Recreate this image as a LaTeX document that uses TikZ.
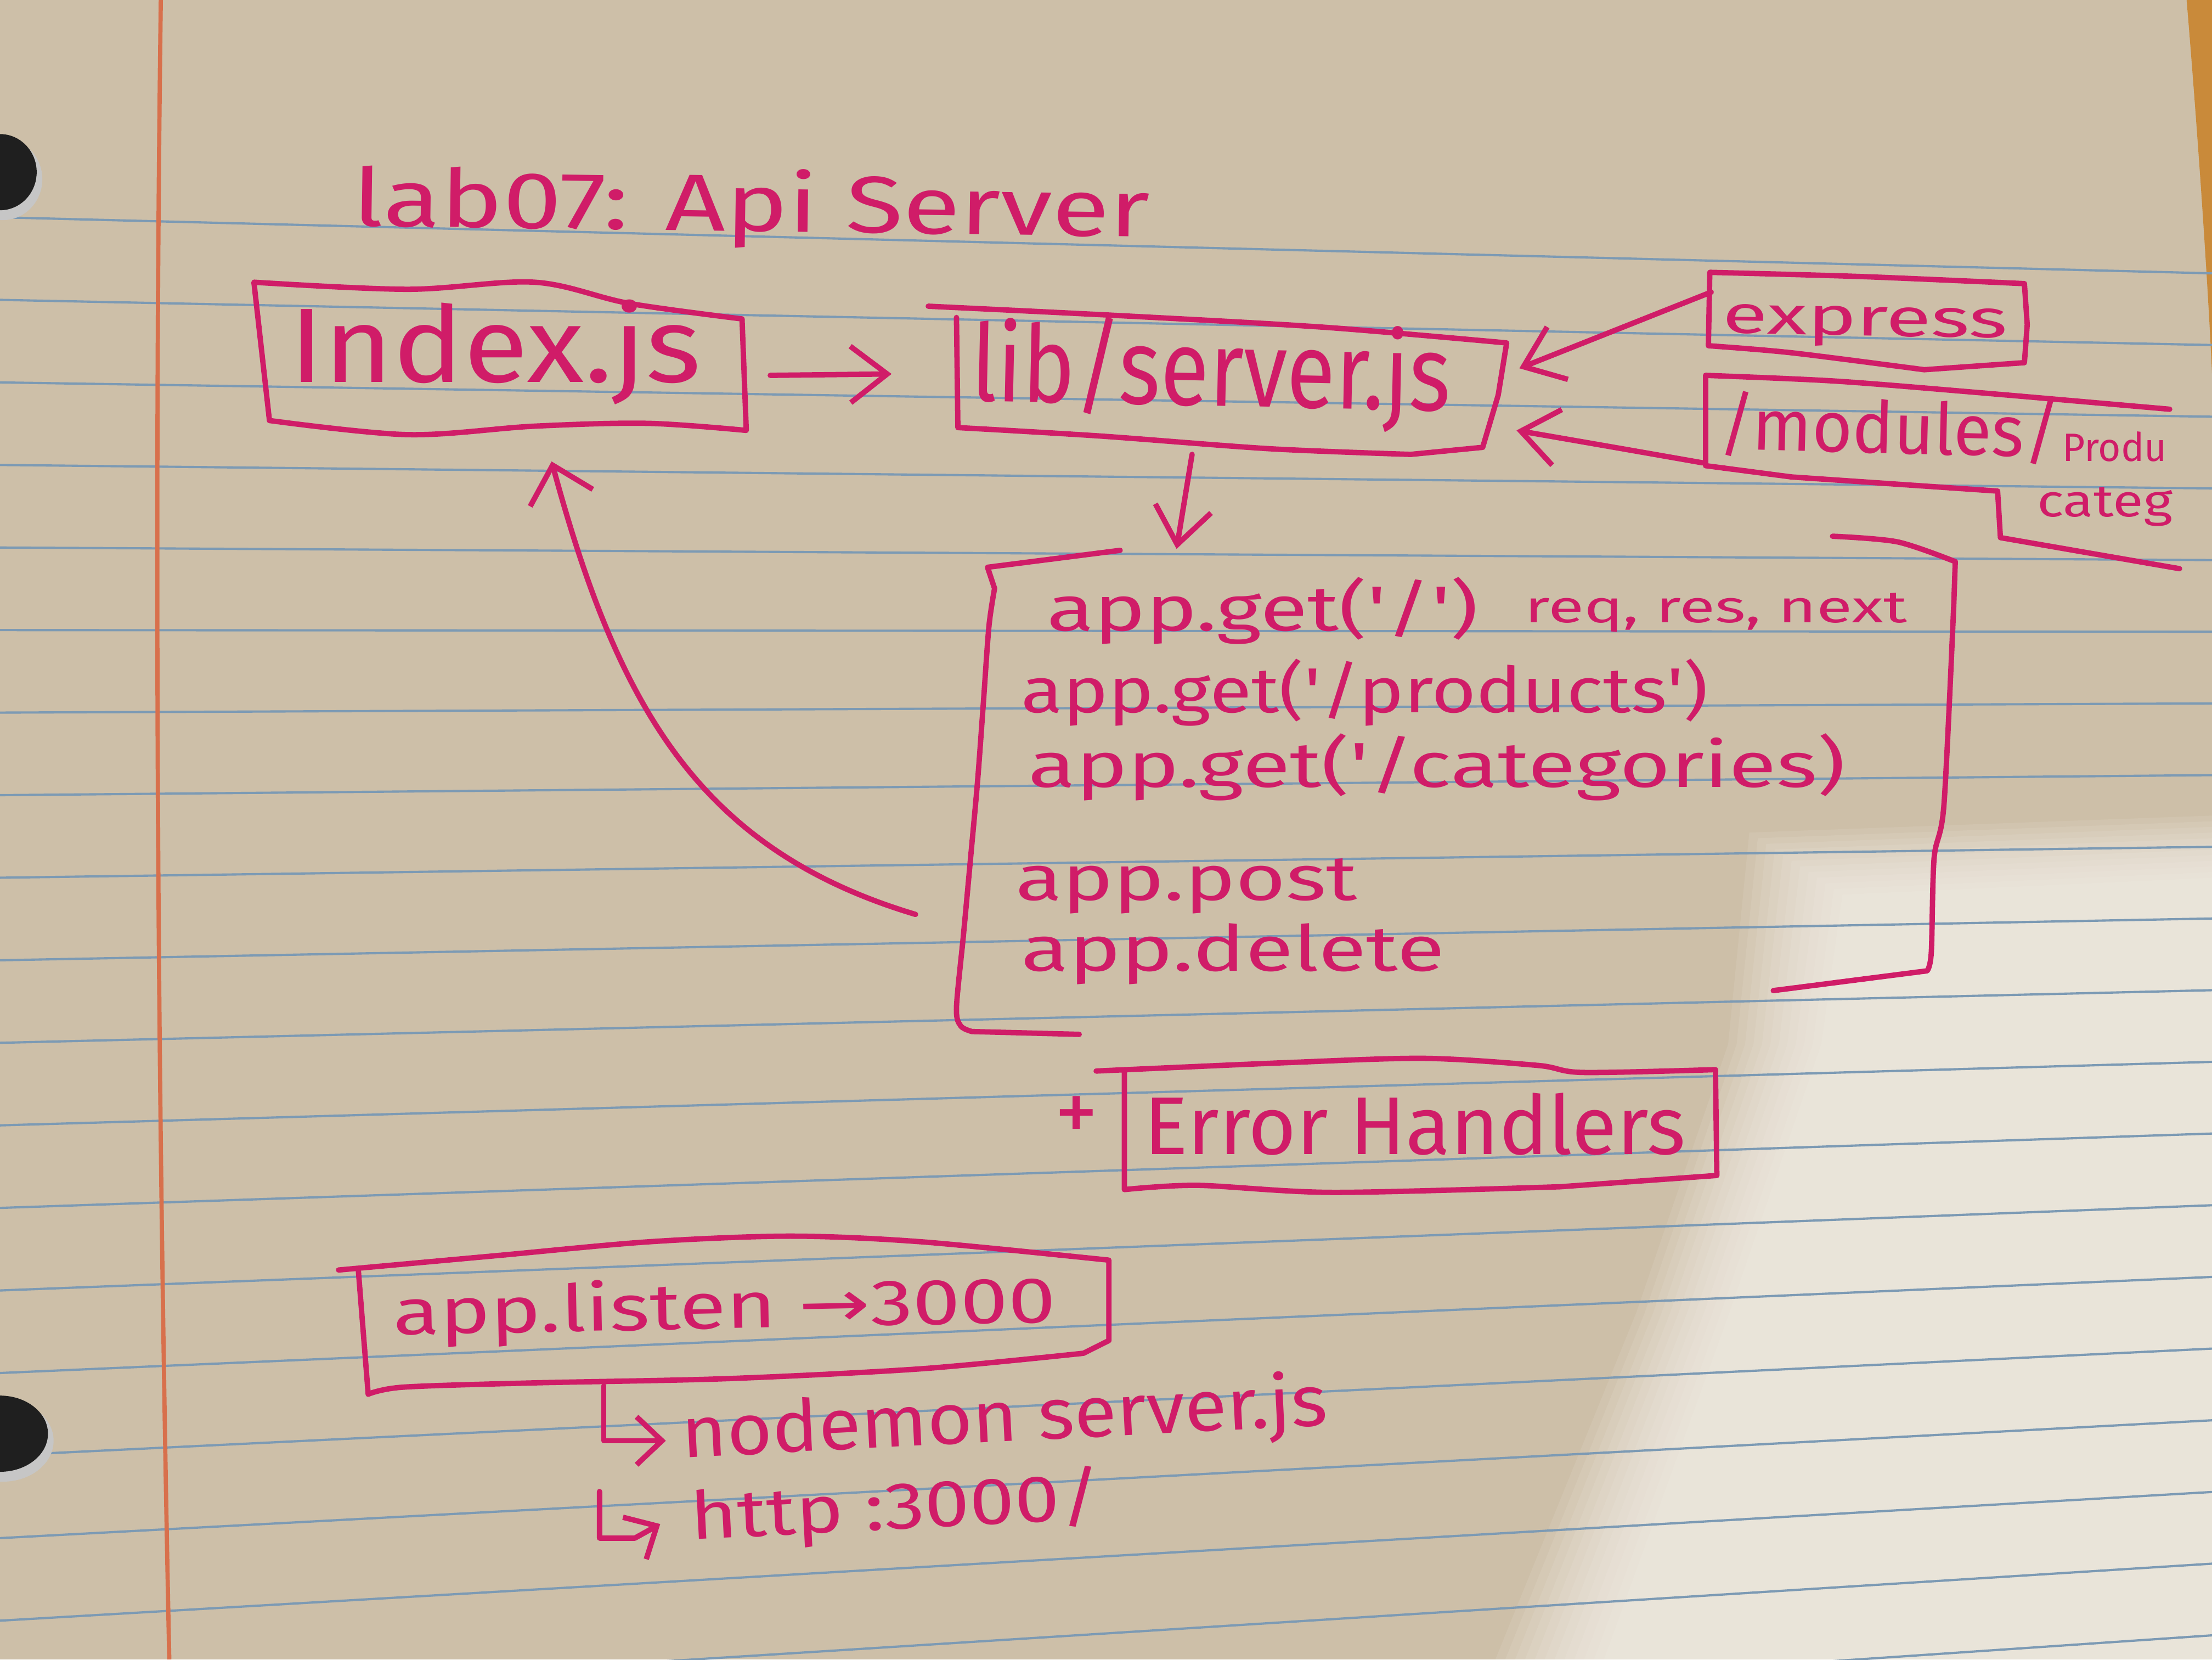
\documentclass[tikz,border=0pt]{standalone}
\usepackage{graphicx}
\usepackage{fontspec}
\setmainfont{Fira Sans}
\newfontfamily\symfont{DejaVu Sans}
\usetikzlibrary{arrows.meta}

\definecolor{ink}{HTML}{D01C68}
\definecolor{paper}{HTML}{CDBFA8}
\definecolor{paperlit}{HTML}{F8F5EE}
\definecolor{rule}{HTML}{7C9AB4}
\definecolor{margin}{HTML}{D8704C}
\definecolor{wood}{HTML}{C98A3A}

% hand lettering: text at a given size, stretched to a given width
\newcommand{\penText}[3]{\resizebox{#1pt}{\height}{\fontsize{#2}{#2}\selectfont #3}}
\newcommand{\q}{\textquotesingle}

\begin{document}
\begin{tikzpicture}[x=1pt,y=-1pt,
  pen/.style={draw=ink, line width=3.8pt, line cap=round, line join=round},
  txt/.style={text=ink, anchor=base west, inner sep=0pt, outer sep=0pt},
  barb/.style={-{Straight Barb[length=26pt,width=40pt]}},
  hookbarb/.style={-{Straight Barb[length=18pt,width=34pt]}},
  ruling/.style={draw=rule, line width=1.6pt}]

\useasboundingbox (0,0) rectangle (1568,1176);

% ---------- sheet of ruled paper ----------
\fill[paper] (0,0) rectangle (1568,1176);
% soft patch of light on the lower right
\foreach \k in {0,...,11}
  \fill[paperlit, opacity=0.11]
    ({1240+6*\k},{590+4*\k}) -- (1568,{578+4*\k}) -- (1568,1176)
    -- ({1060+7*\k},1176) -- ({1160+6*\k},930) -- ({1225+6*\k},740) -- cycle;
\fill[wood] (1550,0) .. controls (1560,120) and (1566,220) .. (1568,265) -- (1568,0) -- cycle;

\foreach \i in {0,...,19}
  \draw[ruling] (0,{154+58.5*\i}) -- (1568,{193.7+50.8*\i});
\draw[draw=margin, line width=3pt] (114,0) .. controls (110,300) and (110,700) .. (120,1176);

% binder holes
\fill[gray!45] (2,127) ellipse [x radius=28, y radius=29];
\fill[black!88] (0,122) ellipse [x radius=26, y radius=27];
\fill[gray!45] (2,1021) ellipse [x radius=36, y radius=29];
\fill[black!88] (0,1016) ellipse [x radius=34, y radius=27];

% ---------- title ----------
\node[txt, rotate=-0.8] (title) at (250,160) {\penText{565}{57}{lab07: Api Server}};

% ---------- Index.js ----------
\node[txt] (index) at (205,271) {\penText{292}{75}{Index.js}};
\draw[pen] plot[smooth,tension=.55] coordinates {(180,200) (289,205) (379,200) (446,215) (526,226)}
  -- plot[smooth,tension=.55] coordinates {(529,305) (459,300) (379,302) (289,308) (191,298)} -- cycle;

% ---------- lib/server.js ----------
\node[txt, rotate=-1.2] (lib) at (688,284) {\penText{340}{76}{lib/server.js}};
\draw[pen] plot[smooth,tension=.5] coordinates {(658,217) (800,224) (940,232) (1068,243)}
  -- plot[smooth,tension=.5] coordinates {(1062,280) (1051,317)}
  -- plot[smooth,tension=.5] coordinates {(1000,322) (900,318) (780,309) (679,303)}
  -- (678,225);

% ---------- express ----------
\node[txt, rotate=-1] (express) at (1221,236) {\penText{202}{38}{express}};
\draw[pen] plot[smooth,tension=.5] coordinates {(1212,193) (1320,196) (1435,201)}
  -- plot[smooth,tension=.5] coordinates {(1437,230) (1435,257)}
  -- plot[smooth,tension=.5] coordinates {(1364,262) (1270,250) (1211,245)} -- cycle;

% ---------- /modules/products categories ----------
\node[txt, rotate=-1.5] (modules) at (1218,318) {\penText{242}{51}{/modules/}};
\node[txt] (produ) at (1462,327) {\penText{74}{28}{Produ}};
\node[txt] (categ) at (1444,366) {\penText{96}{32}{categ}};
\draw[pen] plot[smooth,tension=.5] coordinates {(1538,290) (1400,278) (1300,270) (1209,266)}
  -- (1209,330)
  -- plot[smooth,tension=.5] coordinates {(1270,338) (1416,348)}
  -- (1418,381) -- (1545,403);

% ---------- route handlers ----------
\node[txt] (get1) at (742,447) {\penText{306}{45}{app.get(\q/\q)}};
\node[txt] (args) at (1081,441) {\penText{271}{32}{req, res, next}};
\node[txt] (get2) at (724,505) {\penText{487}{45}{app.get(\q/products\q)}};
\node[txt] (get3) at (729,558) {\penText{579}{45}{app.get(\q/categories)}};
\node[txt] (post) at (720,638) {\penText{242}{45}{app.post}};
\node[txt] (del)  at (724,688) {\penText{300}{45}{app.delete}};
\draw[pen] (794,390) -- (700,402)
  -- plot[smooth,tension=.5] coordinates {(705,417) (701,444) (697,499) (693,553) (688,608) (683,662) (678,714) (681,727) (689,731)}
  -- (765,733);
\draw[pen] plot[smooth,tension=.5] coordinates {(1299,380) (1345,384) (1386,398)}
  -- plot[smooth,tension=.5] coordinates {(1385,427) (1378,570) (1371,608) (1369,675) (1366,688)}
  -- (1257,702);

% ---------- error handlers ----------
\node[text=ink, inner sep=0pt] (plus) at (763,793) {\fontsize{62}{62}\selectfont +};
\node[txt] (err) at (811,818) {\penText{384}{58}{Error Handlers}};
\draw[pen] plot[smooth,tension=.5] coordinates {(777,759) (913,753) (1010,750) (1090,755) (1122,760) (1216,758)}
  -- (1217,833)
  -- plot[smooth,tension=.5] coordinates {(1106,841) (945,845) (849,840) (797,843)}
  -- (797,758);

% ---------- app.listen ----------
\node[txt, rotate=1.1] (listen) at (279,946) {\penText{470}{46}{app.listen {\symfont →}3000}};
\draw[pen] plot[smooth,tension=.5] coordinates {(240,900) (350,890) (460,880) (560,876) (653,880) (786,893)}
  -- (786,950)
  -- plot[smooth,tension=.5] coordinates {(768,959) (653,970) (515,977) (378,980) (286,983) (261,988)}
  -- (254,900);
\node[txt, rotate=2.9] (nodemon) at (484,1033) {\penText{458}{51}{nodemon server.js}};
\node[txt, rotate=2.9] (http) at (490,1091) {\penText{292}{47}{http :3000/}};

% ---------- connectors ----------
\coordinate (idxOut) at (546,266);
\coordinate (libIn) at (632,265);
\draw[pen, barb] (idxOut) -- (libIn);

\coordinate (expOut) at (1213,207);
\coordinate (libInA) at (1077,261);
\draw[pen, barb] (expOut) -- (libInA);

\coordinate (modOut) at (1207,328);
\coordinate (libInB) at (1075,305);
\draw[pen, barb] (modOut) .. controls (1150,318) .. (libInB);

\coordinate (libOut) at (845,322);
\coordinate (blockIn) at (834,389);
\draw[pen, barb] (libOut) -- (blockIn);

\coordinate (blockOut) at (649,648);
\coordinate (idxIn) at (391,327);
\draw[pen, -{Straight Barb[length=24pt,width=46pt]}] (blockOut) .. controls (495,602) and (438,500) .. (idxIn);

\coordinate (hookA) at (428,982);
\coordinate (hookAEnd) at (472,1021);
\draw[pen, hookbarb] (hookA) |- (hookAEnd);
\coordinate (hookB) at (425,1057);
\coordinate (hookBEnd) at (468,1080);
\draw[pen, hookbarb] (hookB) -- (425,1090) -- (450,1090) -- (hookBEnd);
\end{tikzpicture}
\end{document}
